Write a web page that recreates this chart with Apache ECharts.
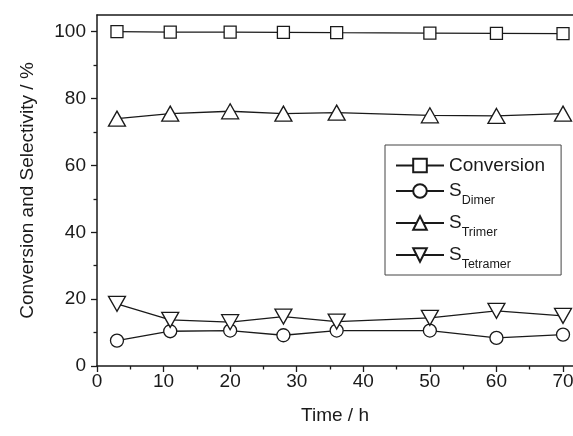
<!DOCTYPE html>
<html>
<head>
<meta charset="utf-8">
<script src="https://cdn.jsdelivr.net/npm/echarts@6/dist/echarts.min.js"></script>
<style>
html,body{margin:0;padding:0;background:#fff;}
#chart{width:573px;height:436px;}
</style>
</head>
<body>
<div id="chart"></div>
<script>
const times = [3, 11, 20, 28, 36, 50, 60, 70];
const conversion = [100, 99.9, 99.9, 99.8, 99.7, 99.6, 99.5, 99.4];
const sDimer = [7.6, 10.4, 10.6, 9.2, 10.6, 10.6, 8.4, 9.4];
const sTrimer = [74.0, 75.5, 76.2, 75.5, 75.8, 75.0, 74.8, 75.5];
const sTetramer = [18.6, 13.8, 13.1, 14.8, 13.3, 14.4, 16.5, 15.0];
const seriesNames = ['Conversion', 'SDimer', 'STrimer', 'STetramer'];
const xMajorTicks = [0, 10, 20, 30, 40, 50, 60, 70];
const xMinorTicks = [5, 15, 25, 35, 45, 55, 65];
const yMajorTicks = [0, 20, 40, 60, 80, 100];
const yMinorTicks = [10, 30, 50, 70, 90];

const INK = '#1a1a1a';
const FONT = '"Liberation Sans", Arial, sans-serif';
const chart = echarts.init(document.getElementById('chart'), null, {renderer: 'canvas'});

function pairs(ys) { return times.map((t, i) => [t, ys[i]]); }

function mkSeries(name, ys, symbol, size, rotate) {
  return {
    name: name, type: 'line', data: pairs(ys),
    xAxisIndex: 0, yAxisIndex: 0,
    symbol: symbol, symbolSize: size, symbolRotate: rotate || 0,
    showAllSymbol: true,
    lineStyle: {color: INK, width: 1.3},
    itemStyle: {color: '#fff', borderColor: INK, borderWidth: 1.3},
    emphasis: {disabled: true},
    animation: false
  };
}

const baseX = {
  type: 'value', min: 0, max: 71.5, gridIndex: 0, position: 'bottom'
};
const baseY = {
  type: 'value', min: 0, max: 105, gridIndex: 0, position: 'left'
};

chart.setOption({
  animation: false,
  textStyle: {fontFamily: FONT},
  grid: {left: 97, top: 15, bottom: 70, right: 0, show: false, containLabel: false, outerBoundsMode: 'none'},
  legend: {
    orient: 'vertical', left: 385, top: 145,
    padding: [11, 16, 4, 10],
    borderColor: '#444', borderWidth: 1,
    itemWidth: 48, itemHeight: 17, itemGap: 6,
    data: seriesNames,
    formatter: function (n) {
      if (n === 'Conversion') return '{c|Conversion}';
      return '{s|S}{sub|' + n.slice(1) + '}';
    },
    textStyle: {
      color: INK, fontFamily: FONT, fontSize: 19,
      rich: {
        c: {fontSize: 19, color: INK, fontFamily: FONT, lineHeight: 20},
        s: {fontSize: 19, color: INK, fontFamily: FONT, lineHeight: 20, verticalAlign: 'top'},
        sub: {fontSize: 12.5, color: INK, fontFamily: FONT, lineHeight: 14, padding: [13, 0, 0, 0], verticalAlign: 'top'}
      }
    }
  },
  xAxis: [
    Object.assign({}, baseX, {
      name: 'Time / h', nameLocation: 'middle', nameGap: 40,
      nameTextStyle: {color: INK, fontSize: 19, fontFamily: FONT},
      axisLine: {show: true, onZero: false, lineStyle: {color: INK, width: 1.5}},
      axisTick: {show: true, inside: false, length: 6, lineStyle: {color: INK, width: 1.3}, customValues: xMajorTicks},
      axisLabel: {show: true, margin: 6, color: INK, fontSize: 19, fontFamily: FONT, customValues: xMajorTicks},
      splitLine: {show: false}
    }),
    Object.assign({}, baseX, {
      axisLine: {show: false},
      axisTick: {show: true, inside: false, length: 3.5, lineStyle: {color: INK, width: 1.3}, customValues: xMinorTicks},
      axisLabel: {show: false},
      splitLine: {show: false}
    }),
    Object.assign({}, baseX, {
      position: 'top',
      axisLine: {show: true, onZero: false, lineStyle: {color: INK, width: 1.5}},
      axisTick: {show: false},
      axisLabel: {show: false},
      splitLine: {show: false}
    })
  ],
  yAxis: [
    Object.assign({}, baseY, {
      name: 'Conversion and Selectivity / %', nameLocation: 'middle', nameGap: 60,
      nameTextStyle: {color: INK, fontSize: 19, fontFamily: FONT},
      axisLine: {show: true, onZero: false, lineStyle: {color: INK, width: 1.5}},
      axisTick: {show: true, inside: false, length: 6, lineStyle: {color: INK, width: 1.3}, customValues: yMajorTicks},
      axisLabel: {show: true, margin: 11, color: INK, fontSize: 19, fontFamily: FONT, customValues: yMajorTicks},
      splitLine: {show: false}
    }),
    Object.assign({}, baseY, {
      axisLine: {show: false},
      axisTick: {show: true, inside: false, length: 3.5, lineStyle: {color: INK, width: 1.3}, customValues: yMinorTicks},
      axisLabel: {show: false},
      splitLine: {show: false}
    })
  ],
  series: [
    mkSeries(seriesNames[0], conversion, 'rect', 12),
    mkSeries(seriesNames[1], sDimer, 'circle', 13),
    mkSeries(seriesNames[2], sTrimer, 'triangle', [17, 15]),
    mkSeries(seriesNames[3], sTetramer, 'triangle', [17, 15], 180)
  ]
});
</script>
</body>
</html>
